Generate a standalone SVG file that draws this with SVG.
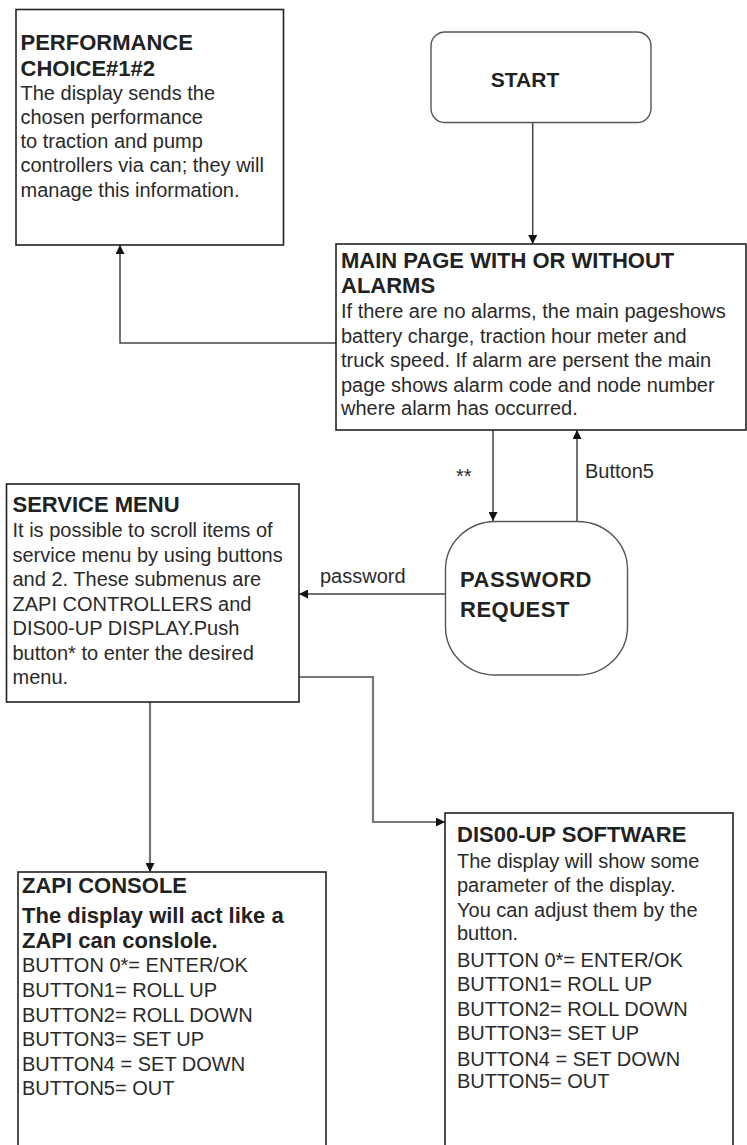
<svg xmlns="http://www.w3.org/2000/svg" width="747" height="1145" viewBox="0 0 747 1145">
<defs>
<marker id="ah" viewBox="0 0 10 10" refX="10" refY="5" markerWidth="9" markerHeight="9" markerUnits="userSpaceOnUse" orient="auto">
<path d="M0,0 L10,5 L0,10 z" fill="#111"/>
</marker>
<style>
.box{fill:#fff;stroke:#222;stroke-width:1.6}
.soft{fill:#fff;stroke:#555;stroke-width:1.4}
.t{font-family:"Liberation Sans",Arial,sans-serif;font-size:20px;fill:#2a2a2a}
.b{font-family:"Liberation Sans",Arial,sans-serif;font-size:22px;font-weight:bold;fill:#222}
.c{fill:none;stroke:#444;stroke-width:1.5;marker-end:url(#ah)}
.g{stroke:#777;stroke-width:2.2}
.lbl{font-family:"Liberation Sans",Arial,sans-serif;font-size:20px;fill:#2a2a2a}
</style>
</defs>
<rect width="747" height="1145" fill="#fff"/>

<g id="connectors">
<path class="c" d="M532.7,123 L532.7,244"/>
<path class="c" d="M336,343 L120,343 L120,245"/>
<path class="c" d="M493,430 L493,521"/>
<path class="c" d="M577,521 L577,430"/>
<path class="c" d="M445,594 L299,594"/>
<path class="c g" d="M150,702 L150,872"/>
<path class="c g" d="M299,677 L373,677 L373,822 L445,822"/>
<text class="lbl" x="456" y="483">**</text>
<text class="lbl" x="585" y="478">Button5</text>
<text class="lbl" x="320" y="583">password</text>
</g>

<g id="performance">
<rect class="box" x="16" y="9.5" width="267.5" height="235.5"/>
<text class="b" x="20.5" y="50">PERFORMANCE</text>
<text class="b" x="20.5" y="76">CHOICE#1#2</text>
<text class="t" x="20.5" y="100">The display sends the</text>
<text class="t" x="20.5" y="124">chosen performance</text>
<text class="t" x="20.5" y="148">to traction and pump</text>
<text class="t" x="20.5" y="172">controllers via can; they will</text>
<text class="t" x="20.5" y="197">manage this information.</text>
</g>

<g id="start">
<rect class="soft" x="431" y="32" width="220" height="90.5" rx="14" ry="14"/>
<text class="b" x="525" y="87" text-anchor="middle" style="font-size:21px">START</text>
</g>

<g id="main-page">
<rect class="box" x="336" y="244" width="410" height="186"/>
<text class="b" x="341" y="268">MAIN PAGE WITH OR WITHOUT</text>
<text class="b" x="341" y="293">ALARMS</text>
<text class="t" x="341" y="318">If there are no alarms, the main pageshows</text>
<text class="t" x="341" y="343">battery charge, traction hour meter and</text>
<text class="t" x="341" y="367">truck speed. If alarm are persent the main</text>
<text class="t" x="341" y="392">page shows alarm code and node number</text>
<text class="t" x="341" y="415">where alarm has occurred.</text>
</g>

<g id="password-request">
<rect class="soft" x="445.5" y="521.5" width="182" height="153.5" rx="50" ry="48"/>
<text class="b" x="460" y="587" style="letter-spacing:0.5px">PASSWORD</text>
<text class="b" x="460" y="617" style="letter-spacing:0.5px">REQUEST</text>
</g>

<g id="service-menu">
<rect class="box" x="6.5" y="484" width="292.5" height="218"/>
<text class="b" x="12.5" y="512">SERVICE MENU</text>
<text class="t" x="12.5" y="537">It is possible to scroll items of</text>
<text class="t" x="12.5" y="561.5">service menu by using buttons</text>
<text class="t" x="12.5" y="586">and 2. These submenus are</text>
<text class="t" x="12.5" y="610.5">ZAPI CONTROLLERS and</text>
<text class="t" x="12.5" y="635">DIS00-UP DISPLAY.Push</text>
<text class="t" x="12.5" y="659.5">button* to enter the desired</text>
<text class="t" x="12.5" y="684">menu.</text>
</g>

<g id="zapi-console">
<rect class="box" x="18" y="872" width="308" height="300"/>
<text class="b" x="22" y="893">ZAPI CONSOLE</text>
<text class="b" x="22" y="923">The display will act like a</text>
<text class="b" x="22" y="948">ZAPI can conslole.</text>
<text class="t" x="22" y="972">BUTTON 0*= ENTER/OK</text>
<text class="t" x="22" y="997">BUTTON1= ROLL UP</text>
<text class="t" x="22" y="1022">BUTTON2= ROLL DOWN</text>
<text class="t" x="22" y="1046">BUTTON3= SET UP</text>
<text class="t" x="22" y="1071">BUTTON4 = SET DOWN</text>
<text class="t" x="22" y="1095">BUTTON5= OUT</text>
</g>

<g id="dis00-up-software">
<rect class="box" x="445" y="813" width="288" height="360"/>
<text class="b" x="457" y="842">DIS00-UP SOFTWARE</text>
<text class="t" x="457" y="868">The display will show some</text>
<text class="t" x="457" y="892">parameter of the display.</text>
<text class="t" x="457" y="917">You can adjust them by the</text>
<text class="t" x="457" y="940">button.</text>
<text class="t" x="457" y="967">BUTTON 0*= ENTER/OK</text>
<text class="t" x="457" y="991">BUTTON1= ROLL UP</text>
<text class="t" x="457" y="1016">BUTTON2= ROLL DOWN</text>
<text class="t" x="457" y="1040">BUTTON3= SET UP</text>
<text class="t" x="457" y="1066">BUTTON4 = SET DOWN</text>
<text class="t" x="457" y="1088">BUTTON5= OUT</text>
</g>
</svg>
